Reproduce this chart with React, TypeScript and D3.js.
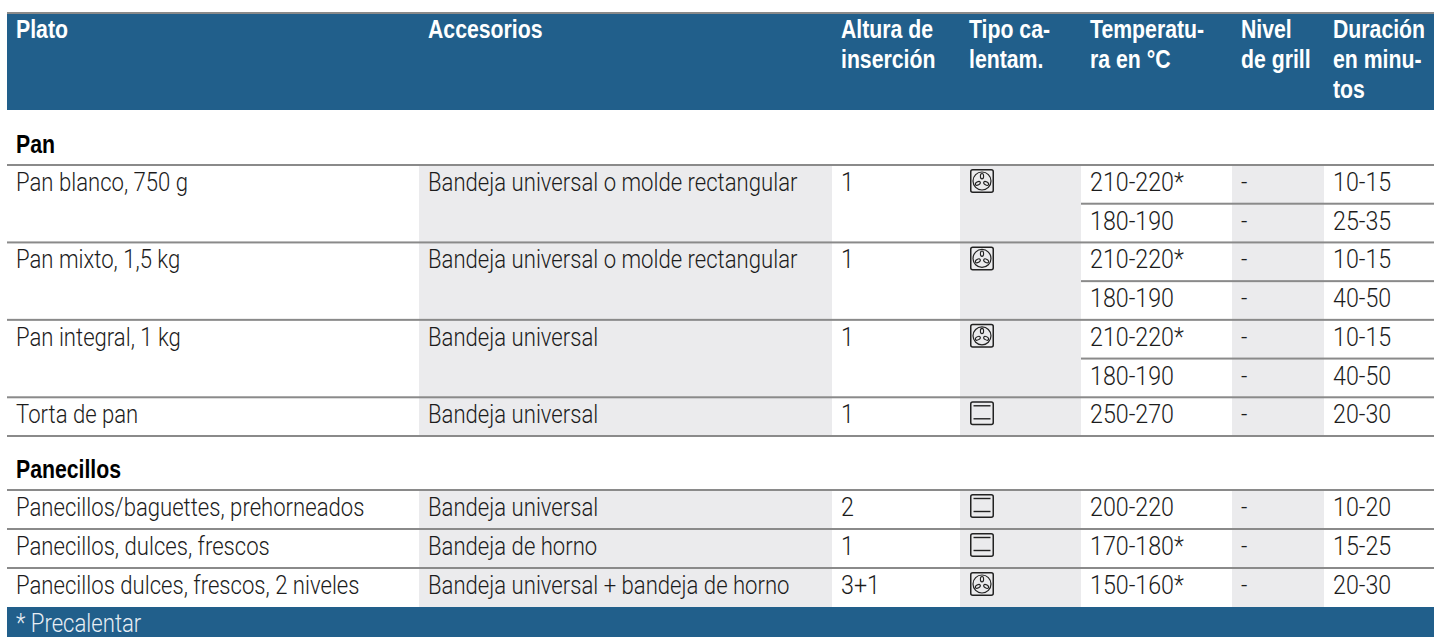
import React, { useRef, useEffect } from 'react';
import * as d3 from 'd3';

const columnas = ['Plato', 'Accesorios', 'Altura', 'Tipo', 'Temperatura', 'Nivel', 'Duracion'];
const cabeceras = [
  ['Plato'],
  ['Accesorios'],
  ['Altura de', 'inserción'],
  ['Tipo ca-', 'lentam.'],
  ['Temperatu-', 'ra en °C'],
  ['Nivel', 'de grill'],
  ['Duración', 'en minu-', 'tos'],
];

const secciones = ['Pan', 'Panecillos'];
const seccionDeFila = [0, 0, 0, 0, 1, 1, 1];
const platos = [
  'Pan blanco, 750 g',
  'Pan mixto, 1,5 kg',
  'Pan integral, 1 kg',
  'Torta de pan',
  'Panecillos/baguettes, prehorneados',
  'Panecillos, dulces, frescos',
  'Panecillos dulces, frescos, 2 niveles',
];
const accesorios = [
  'Bandeja universal o molde rectangular',
  'Bandeja universal o molde rectangular',
  'Bandeja universal',
  'Bandeja universal',
  'Bandeja universal',
  'Bandeja de horno',
  'Bandeja universal + bandeja de horno',
];
const alturas = ['1', '1', '1', '1', '2', '1', '3+1'];
const tipos = ['aire', 'aire', 'aire', 'grill', 'grill', 'grill', 'aire'];
const temperaturas = [
  ['210-220*', '180-190'],
  ['210-220*', '180-190'],
  ['210-220*', '180-190'],
  ['250-270'],
  ['200-220'],
  ['170-180*'],
  ['150-160*'],
];
const duraciones = [
  ['10-15', '25-35'],
  ['10-15', '40-50'],
  ['10-15', '40-50'],
  ['20-30'],
  ['10-20'],
  ['15-25'],
  ['20-30'],
];
const nota = '* Precalentar';

const BLUE = '#215f8b';
const GREY = '#ebebed';
const LINE = '#8a8a8a';
const INK = '#1c1c1c';

const width = 1434;
const height = 637;

export default function App() {
  const svgEl = useRef<SVGSVGElement>(null);

  useEffect(() => {
    const svg = d3.select(svgEl.current);
    svg.selectAll('*').remove();

    // column edges, the last edge is the right side of the page
    const x = d3
      .scaleOrdinal<string, number>()
      .domain(columnas)
      .range([7, 419, 832, 960, 1081, 1232, 1324]);
    const right = (c: string) => {
      const i = columnas.indexOf(c);
      return i === columnas.length - 1 ? width : x(columnas[i + 1]);
    };

    // each section has its own scale, counted in text lines
    const ySeccion = [
      d3.scaleLinear().domain([0, 7]).range([165, 436]),
      d3.scaleLinear().domain([0, 3]).range([490, 607]),
    ];

    const line = (x1: number, x2: number, y: number) =>
      svg
        .append('rect')
        .attr('x', x1)
        .attr('width', x2 - x1)
        .attr('y', y - 1)
        .attr('height', 2)
        .attr('fill', LINE);

    // no narrow font is installed, so the text is squeezed sideways
    const text = (s: string, tx: number, ty: number, fill = INK, sx = 0.885) =>
      svg
        .append('text')
        .attr('transform', `translate(${tx},${ty}) scale(${sx},1)`)
        .attr('font-family', 'Roboto, sans-serif')
        .attr('font-size', 25)
        .attr('font-weight', 300)
        .attr('fill', fill)
        .text(s);

    const bold = (s: string, tx: number, ty: number, fill = '#fff') =>
      svg
        .append('text')
        .attr('transform', `translate(${tx},${ty}) scale(0.85,1)`)
        .attr('font-family', '"Liberation Sans", sans-serif')
        .attr('font-size', 25)
        .attr('font-weight', 'bold')
        .attr('fill', fill)
        .text(s);

    // header
    svg
      .append('rect')
      .attr('x', 7)
      .attr('y', 13)
      .attr('width', width - 7)
      .attr('height', 97)
      .attr('fill', BLUE);
    line(7, width, 13);
    cabeceras.forEach((lineas, c) => {
      lineas.forEach((s, i) => {
        bold(s, x(columnas[c]) + 9, 38 + i * 30);
      });
    });

    // section titles
    secciones.forEach((s, i) => {
      bold(s, 16, ySeccion[i](0) - 12, '#000');
    });

    // rows
    const slotInicial = [0, 0];
    platos.forEach((plato, f) => {
      const sec = seccionDeFila[f];
      const y = ySeccion[sec];
      const slot = slotInicial[sec];
      const n = temperaturas[f].length;
      slotInicial[sec] += n;
      const y0 = y(slot);
      const y1 = y(slot + n);

      ['Accesorios', 'Tipo', 'Nivel'].forEach((c) => {
        svg
          .append('rect')
          .attr('x', x(c))
          .attr('y', y0)
          .attr('width', right(c) - x(c))
          .attr('height', y1 - y0)
          .attr('fill', GREY);
      });

      const base = y0 + 26;
      text(plato, x('Plato') + 9, base);
      text(accesorios[f], x('Accesorios') + 9, base);
      text(alturas[f], x('Altura') + 9, base, INK, 0.93);
      drawIcon(svg, tipos[f], x('Tipo') + 10, y0 + 4);

      temperaturas[f].forEach((t, k) => {
        const by = y(slot + k) + 26;
        text(t, x('Temperatura') + 9, by, INK, 0.93);
        text('-', x('Nivel') + 9, by);
        text(duraciones[f][k], x('Duracion') + 9, by, INK, 0.93);
        if (k > 0) line(x('Temperatura'), width, y(slot + k));
      });
      line(7, width, y0);
      if (f === 3) line(7, width, y1);
    });

    // footer
    svg
      .append('rect')
      .attr('x', 7)
      .attr('y', ySeccion[1](3))
      .attr('width', width - 7)
      .attr('height', height - ySeccion[1](3))
      .attr('fill', BLUE);
    text(nota, 16, 632, '#e8eef4');
  }, []);

  return (
    <svg
      ref={svgEl}
      width={width}
      height={height}
      style={{ position: 'absolute', left: 0, top: 0, background: '#fff' }}
    ></svg>
  );
}

function drawIcon(svg: any, tipo: string, ix: number, iy: number) {
  const g = svg.append('g').attr('transform', `translate(${ix},${iy})`);
  g.append('rect')
    .attr('x', 0.75)
    .attr('y', 0.75)
    .attr('width', 22.5)
    .attr('height', 22.5)
    .attr('rx', 2)
    .attr('fill', 'none')
    .attr('stroke', '#222')
    .attr('stroke-width', 1.5);
  if (tipo === 'grill') {
    [4.5, 17.5].forEach((ly) => {
      g.append('line')
        .attr('x1', 3.5)
        .attr('x2', 20.5)
        .attr('y1', ly)
        .attr('y2', ly)
        .attr('stroke', '#222')
        .attr('stroke-width', 1.4);
    });
    return;
  }
  g.append('circle')
    .attr('cx', 12)
    .attr('cy', 12)
    .attr('r', 9)
    .attr('fill', 'none')
    .attr('stroke', '#222')
    .attr('stroke-width', 1.2);
  [0, 120, 240].forEach((a) => {
    g.append('ellipse')
      .attr('cx', 12)
      .attr('cy', 7.2)
      .attr('rx', 1.6)
      .attr('ry', 2.7)
      .attr('transform', `rotate(${a} 12 12)`)
      .attr('fill', 'none')
      .attr('stroke', '#222')
      .attr('stroke-width', 1.1);
  });
}
